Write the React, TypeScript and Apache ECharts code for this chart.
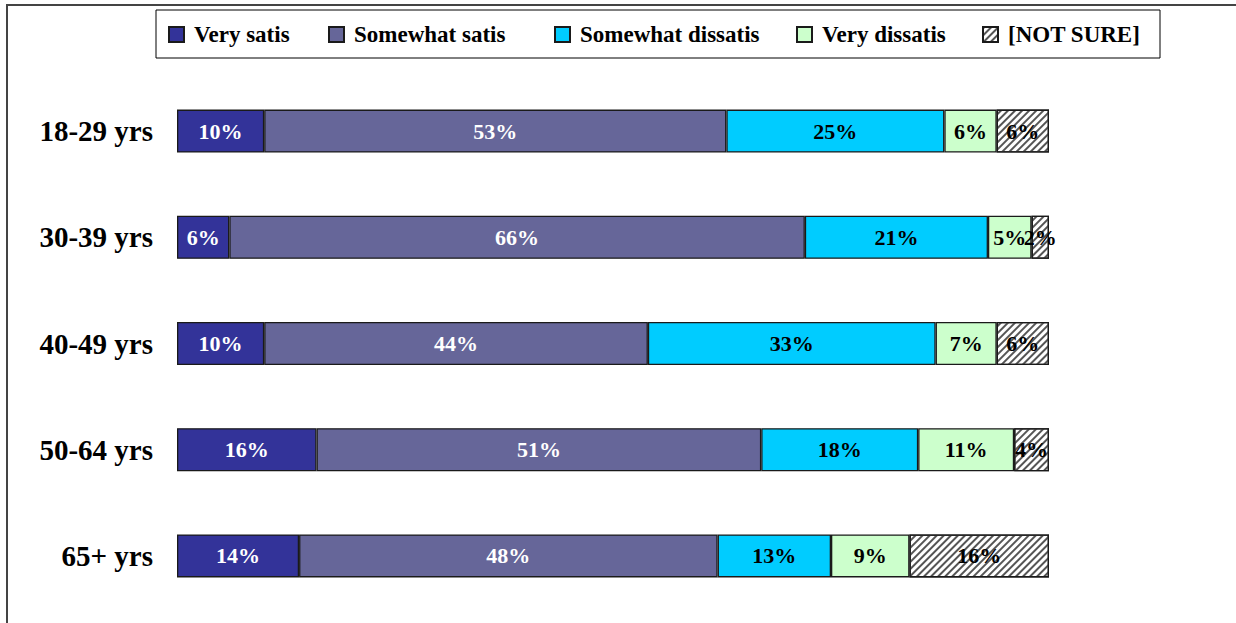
import React, { useEffect, useRef } from "react";
import * as echarts from "echarts";

const categories = ["18-29 yrs", "30-39 yrs", "40-49 yrs", "50-64 yrs", "65+ yrs"];
const seriesNames = ["Very satis", "Somewhat satis", "Somewhat dissatis", "Very dissatis", "[NOT SURE]"];
const verySatis = [10, 6, 10, 16, 14];
const somewhatSatis = [53, 66, 44, 51, 48];
const somewhatDissatis = [25, 21, 33, 18, 13];
const veryDissatis = [6, 5, 7, 11, 9];
const notSure = [6, 2, 6, 4, 16];

const FONT = "'Liberation Serif', 'Times New Roman', serif";

export default function App() {
  const ref = useRef<HTMLDivElement>(null);
  useEffect(() => {
    const chart = echarts.init(ref.current!, null, { renderer: "svg" });
    const values = [verySatis, somewhatSatis, somewhatDissatis, veryDissatis, notSure];
    const fills = ["#333399", "#666699", "#00CCFF", "#CCFFCC", "#FFFFFF"];
    const labelColors = ["#FFFFFF", "#FFFFFF", "#000000", "#000000", "#000000"];
    const legendBoxWidths = [129, 195, 211, 155, 150];
    const series = values.map((data, i) => ({
      name: seriesNames[i],
      type: "bar",
      stack: "total",
      barWidth: 43,
      data,
      itemStyle: {
        color: fills[i],
        borderColor: "#1a1a1a",
        borderWidth: 1.3,
        ...(i === 4
          ? {
              decal: {
                symbol: "rect",
                color: "#555555",
                backgroundColor: "#FFFFFF",
                dashArrayX: [1, 0],
                dashArrayY: [1.5, 2.5],
                rotation: -Math.PI / 4,
                symbolSize: 1,
              },
            }
          : {}),
      },
      label: {
        show: true,
        position: "inside",
        formatter: "{c}%",
        color: labelColors[i],
        fontFamily: FONT,
        fontWeight: "bold",
        fontSize: 22,
      },
    }));
    const rich: Record<string, any> = {};
    legendBoxWidths.forEach((w, i) => {
      rich["t" + i] = {
        width: w - 5,
        padding: [0, 0, 0, 5],
        fontFamily: FONT,
        fontWeight: "bold",
        fontSize: 23,
        lineHeight: 24,
        color: "#000000",
      };
    });
    chart.setOption({
      animation: false,
      backgroundColor: "#FFFFFF",
      legend: {
        data: seriesNames,
        left: 156,
        top: 10,
        padding: [13, 7, 12, 12],
        borderColor: "#000000",
        borderWidth: 1,
        icon: "rect",
        itemWidth: 15,
        itemHeight: 15,
        itemGap: 10,
        formatter: (name: string) => `{t${seriesNames.indexOf(name)}|${name}}`,
        textStyle: {
          fontFamily: FONT,
          fontWeight: "bold",
          fontSize: 23,
          color: "#000000",
          rich,
        },
      },
      graphic: [
        {
          type: "polyline",
          shape: { points: [[7, 640], [7, 5], [1250, 5]] },
          style: { stroke: "#444444", lineWidth: 2, fill: "none" },
        },
      ],
      grid: { left: 177, right: 187, top: 78, bottom: 14 },
      xAxis: { type: "value", min: 0, max: 100, show: false },
      yAxis: {
        type: "category",
        data: categories,
        inverse: true,
        axisLine: { show: false },
        axisTick: { show: false },
        axisLabel: {
          margin: 24,
          fontFamily: FONT,
          fontWeight: "bold",
          fontSize: 29,
          color: "#000000",
        },
      },
      series,
    });
    return () => chart.dispose();
  }, []);
  return (
    <div
      ref={ref}
      style={{ position: "fixed", left: 0, top: 0, width: 1236, height: 623 }}
    />
  );
}
